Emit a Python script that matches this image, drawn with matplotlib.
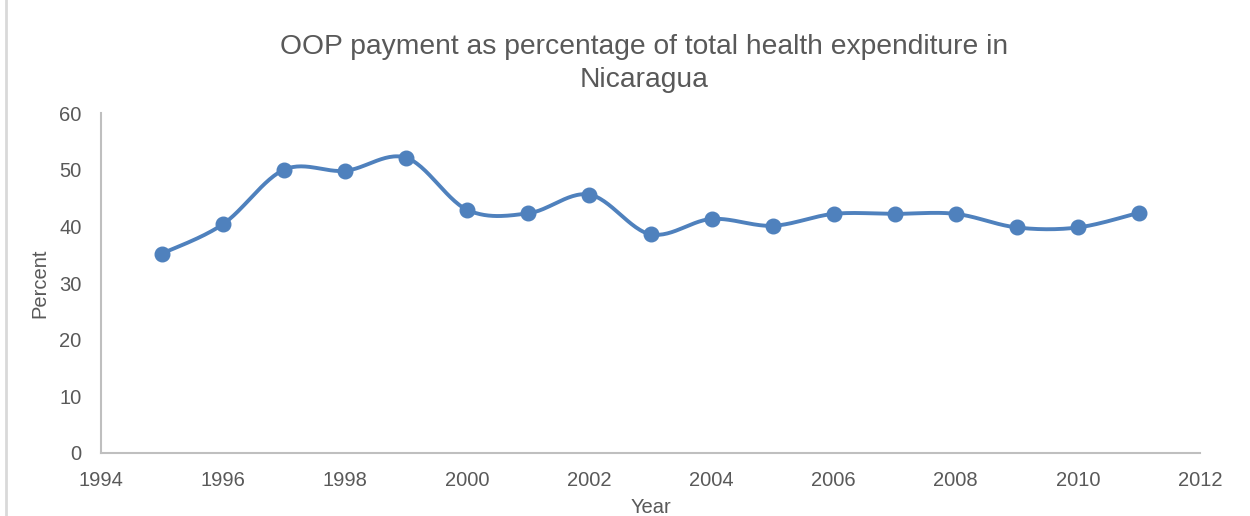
import numpy as np
import matplotlib
matplotlib.use("Agg")
import matplotlib.pyplot as plt
from matplotlib.patches import Rectangle

years = [1995, 1996, 1997, 1998, 1999, 2000, 2001, 2002, 2003, 2004,
         2005, 2006, 2007, 2008, 2009, 2010, 2011]
oop_pct = [35.2, 40.4, 50.0, 49.8, 52.1, 42.9, 42.3, 45.6, 38.6, 41.3,
           40.1, 42.2, 42.2, 42.2, 39.8, 39.8, 42.4]
x_ticks = list(range(1994, 2013, 2))
y_ticks = [0, 10, 20, 30, 40, 50, 60]
title = "OOP payment as percentage of total health expenditure in\nNicaragua"

plt.rcParams['font.family'] = ['Liberation Sans', 'DejaVu Sans']
gray = '#595959'
blue = '#4F81BD'


def catmull_rom(xs, ys, n=30, tension=0.5):
    xs = np.asarray(xs, float)
    ys = np.asarray(ys, float)
    px = np.concatenate([[xs[0]], xs, [xs[-1]]])
    py = np.concatenate([[ys[0]], ys, [ys[-1]]])
    outx, outy = [], []
    t = np.linspace(0, 1, n)
    for i in range(1, len(px) - 2):
        p0x, p1x, p2x, p3x = px[i - 1], px[i], px[i + 1], px[i + 2]
        p0y, p1y, p2y, p3y = py[i - 1], py[i], py[i + 1], py[i + 2]
        c1x = p1x + (p2x - p0x) * tension / 3
        c1y = p1y + (p2y - p0y) * tension / 3
        c2x = p2x - (p3x - p1x) * tension / 3
        c2y = p2y - (p3y - p1y) * tension / 3
        bx = (1 - t) ** 3 * p1x + 3 * (1 - t) ** 2 * t * c1x + 3 * (1 - t) * t ** 2 * c2x + t ** 3 * p2x
        by = (1 - t) ** 3 * p1y + 3 * (1 - t) ** 2 * t * c1y + 3 * (1 - t) * t ** 2 * c2y + t ** 3 * p2y
        outx.extend(bx)
        outy.extend(by)
    return np.array(outx), np.array(outy)


fig = plt.figure(figsize=(12.5, 5.16), dpi=100)
fig.patches.append(Rectangle((6 / 1250, -0.1), 2, 2, transform=fig.transFigure,
                             fill=False, edgecolor='#d9d9d9', linewidth=2))
ax = fig.add_axes([0.0808, 0.1221, 0.8792, 0.6589])

sx, sy = catmull_rom(years, oop_pct, tension=0.5)
ax.plot(sx, sy, color=blue, linewidth=2.8, solid_capstyle='round', zorder=2)
ax.plot(years, oop_pct, linestyle='none', marker='o', markersize=10.5,
        color=blue, zorder=3)

ax.set_xlim(1994, 2012)
ax.set_ylim(0, 60)
ax.set_xticks(x_ticks)
ax.set_yticks(y_ticks)
ax.tick_params(axis='both', length=0, labelsize=14.5, colors=gray)
ax.tick_params(axis='x', pad=13)
ax.tick_params(axis='y', pad=14)
for s in ['top', 'right']:
    ax.spines[s].set_visible(False)
for s in ['left', 'bottom']:
    ax.spines[s].set_color('#bfbfbf')
    ax.spines[s].set_linewidth(1.5)

ax.set_xlabel('Year', fontsize=14.5, color=gray, labelpad=6)
ax.set_ylabel('Percent', fontsize=14.5, color=gray, labelpad=7)
fig.text(0.5155, 0.935, title, ha='center', va='top', fontsize=20.3,
         color=gray, linespacing=1.38)

fig.savefig('out.png', dpi=100)
